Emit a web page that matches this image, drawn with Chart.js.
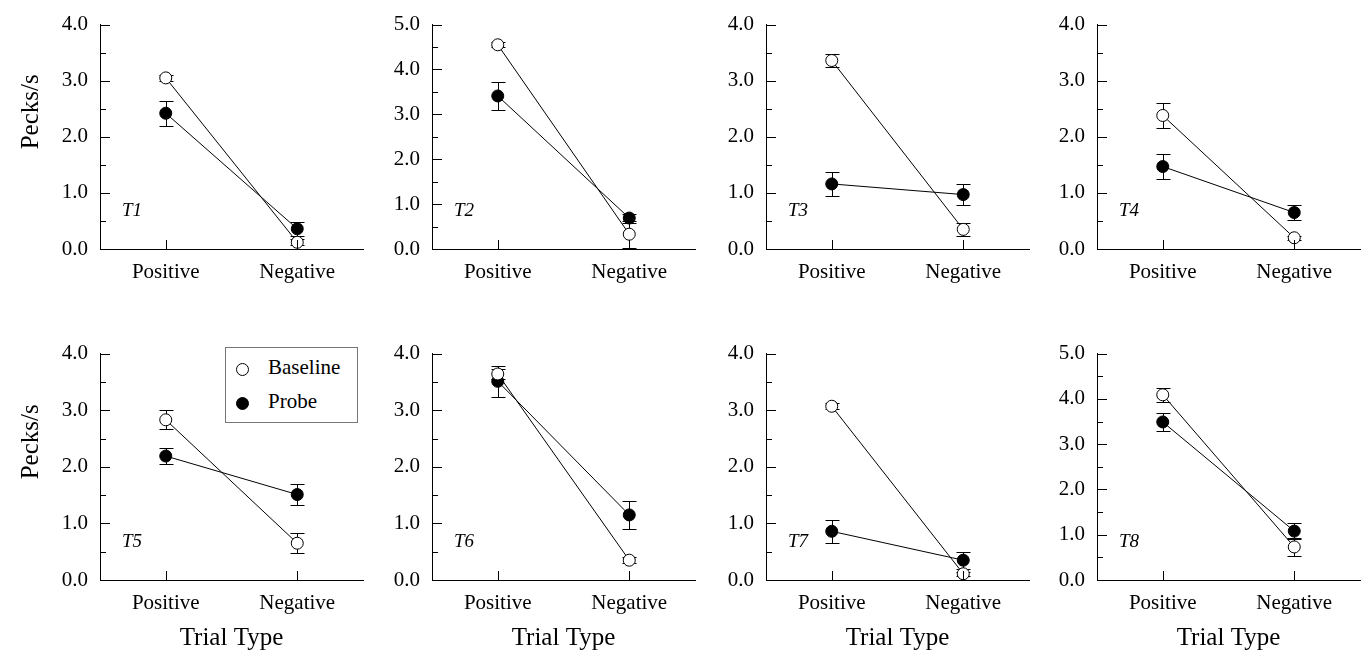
<!DOCTYPE html>
<html>
<head>
<meta charset="utf-8">
<script src="https://cdn.jsdelivr.net/npm/chart.js@4.4.1/dist/chart.umd.min.js"></script>
<style>
  body { margin: 0; background: #fff; width: 1371px; height: 658px; position: relative; overflow: hidden; font-family: 'Liberation Serif', 'Times New Roman', serif; }
  canvas { position: absolute; }
  #legend { position: absolute; left: 225px; top: 347px; width: 131px; height: 74px; border: 1px solid #777; background: #fff; color: #000; font-size: 21px; z-index: 5; }
  #legend .mark { position: absolute; width: 11px; height: 11px; border: 1px solid #000; border-radius: 50%; }
  #legend .txt { position: absolute; left: 42px; line-height: 24px; }
</style>
</head>
<body>
<div id="legend">
  <span class="mark" style="left:10px; top:15px; background:#fff;"></span><span class="txt" style="top:7px;">Baseline</span>
  <span class="mark" style="left:10px; top:49px; background:#000;"></span><span class="txt" style="top:41px;">Probe</span>
</div>
<script>
// Data (pecks per second, mean and error)
const panelIds = ['T1', 'T2', 'T3', 'T4', 'T5', 'T6', 'T7', 'T8'];
const trialTypes = ['Positive', 'Negative'];
const yMax = [4, 5, 4, 4, 4, 4, 4, 5];

const baselineMeans = [[3.05, 0.12], [4.55, 0.33], [3.36, 0.35], [2.38, 0.20], [2.83, 0.65], [3.64, 0.35], [3.07, 0.11], [4.09, 0.73]];
const baselineErrors = [[0.05, 0.05], [0.06, 0.30], [0.12, 0.12], [0.23, 0.04], [0.17, 0.18], [0.08, 0.05], [0.05, 0.04], [0.15, 0.20]];
const probeMeans = [[2.42, 0.36], [3.41, 0.69], [1.16, 0.97], [1.47, 0.65], [2.19, 1.51], [3.51, 1.15], [0.86, 0.35], [3.49, 1.08]];
const probeErrors = [[0.22, 0.12], [0.32, 0.10], [0.21, 0.19], [0.22, 0.14], [0.14, 0.18], [0.27, 0.245], [0.20, 0.15], [0.19, 0.17]];

// Layout
const axisLeft = [100, 432, 766, 1097];
const rowTop = [0, 329];
const FONT = "'Liberation Serif', 'Times New Roman', serif";

Chart.defaults.color = '#000';
Chart.defaults.font.family = FONT;

// error bars, inward ticks, panel label, y title
const panelDecor = {
    id: 'panelDecor',
    beforeDatasetsDraw(chart) {
        const { ctx, scales: { x, y } } = chart;
        ctx.save();
        ctx.strokeStyle = '#000';
        ctx.lineWidth = 1;
        chart.data.datasets.forEach(ds => {
            ds.data.forEach((v, j) => {
                const px = Math.round(x.getPixelForValue(j)) + 0.5;
                const top = Math.round(y.getPixelForValue(v + ds.errors[j])) + 0.5;
                const bot = Math.round(y.getPixelForValue(Math.max(0, v - ds.errors[j]))) + 0.5;
                ctx.beginPath();
                ctx.moveTo(px, top); ctx.lineTo(px, bot);
                ctx.moveTo(px - 7, top); ctx.lineTo(px + 7, top);
                ctx.moveTo(px - 7, bot); ctx.lineTo(px + 7, bot);
                ctx.stroke();
            });
        });
        ctx.restore();
    },
    afterDraw(chart, args, opts) {
        const { ctx, chartArea, scales: { x, y } } = chart;
        ctx.save();
        ctx.strokeStyle = '#000';
        ctx.lineWidth = 1;
        ctx.beginPath();
        y.ticks.forEach(t => {
            const py = Math.round(y.getPixelForValue(t.value)) + 0.5;
            const len = Number.isInteger(t.value) ? 10 : 6;
            ctx.moveTo(chartArea.left, py);
            ctx.lineTo(chartArea.left + len, py);
        });
        x.ticks.forEach((t, j) => {
            const px = Math.round(x.getPixelForTick(j)) + 0.5;
            ctx.moveTo(px, chartArea.bottom);
            ctx.lineTo(px, chartArea.bottom - 9);
        });
        ctx.stroke();

        ctx.fillStyle = '#000';
        ctx.font = 'italic 19px ' + FONT;
        ctx.textAlign = 'left';
        ctx.textBaseline = 'middle';
        ctx.fillText(opts.label, chartArea.left + 22, chartArea.bottom - 38);

        if (opts.yTitle) {
            ctx.font = '25px ' + FONT;
            ctx.textAlign = 'center';
            ctx.translate(31, (chartArea.top + chartArea.bottom) / 2 - 25);
            ctx.rotate(-Math.PI / 2);
            ctx.fillText('Pecks/s', 0, 0);
        }
        ctx.restore();
    }
};

function makePanel(i) {
    const col = i % 4;
    const row = Math.floor(i / 4);
    const canvas = document.createElement('canvas');
    canvas.width = 370;
    canvas.height = 329;
    canvas.style.left = (axisLeft[col] - 100) + 'px';
    canvas.style.top = rowTop[row] + 'px';
    document.body.appendChild(canvas);

    const pointStyle = fill => ({
        borderColor: '#000',
        borderWidth: 1,
        pointRadius: 6,
        pointBorderWidth: 1,
        pointBorderColor: '#000',
        pointBackgroundColor: fill,
        tension: 0
    });

    new Chart(canvas, {
        type: 'line',
        data: {
            labels: trialTypes,
            datasets: [
                { label: 'Baseline', data: baselineMeans[i], errors: baselineErrors[i], ...pointStyle('#fff') },
                { label: 'Probe', data: probeMeans[i], errors: probeErrors[i], ...pointStyle('#000') }
            ]
        },
        options: {
            responsive: false,
            animation: false,
            events: [],
            layout: { padding: { top: row ? 19 : 17, right: 4, left: 0, bottom: 0 } },
            plugins: {
                legend: { display: false },
                tooltip: { enabled: false },
                panelDecor: { label: panelIds[i], yTitle: col === 0 }
            },
            scales: {
                x: {
                    type: 'category',
                    offset: true,
                    grid: { display: false, drawTicks: false },
                    border: { display: true, color: '#000', width: 1 },
                    ticks: { font: { family: FONT, size: 21 }, color: '#000', padding: 11 },
                    title: {
                        display: row === 1,
                        text: 'Trial Type',
                        font: { family: FONT, size: 25 },
                        color: '#000',
                        padding: { top: 0, bottom: 5 }
                    },
                    afterFit(s) { s.height = row ? 78 : 80; }
                },
                y: {
                    min: 0,
                    max: yMax[i],
                    grid: { display: false, drawTicks: false },
                    border: { display: true, color: '#000', width: 1 },
                    ticks: {
                        stepSize: 0.5,
                        autoSkip: false,
                        font: { family: FONT, size: 21 },
                        color: '#000',
                        padding: 12,
                        callback: v => Number.isInteger(v) ? v.toFixed(1) : ''
                    },
                    afterFit(s) { s.width = 100; }
                }
            }
        },
        plugins: [panelDecor]
    });
}

Promise.all([
    document.fonts.load("21px 'Liberation Serif'"),
    document.fonts.load("italic 19px 'Liberation Serif'")
]).catch(() => null).then(() => {
    panelIds.forEach((_, i) => makePanel(i));
});
</script>
</body>
</html>
